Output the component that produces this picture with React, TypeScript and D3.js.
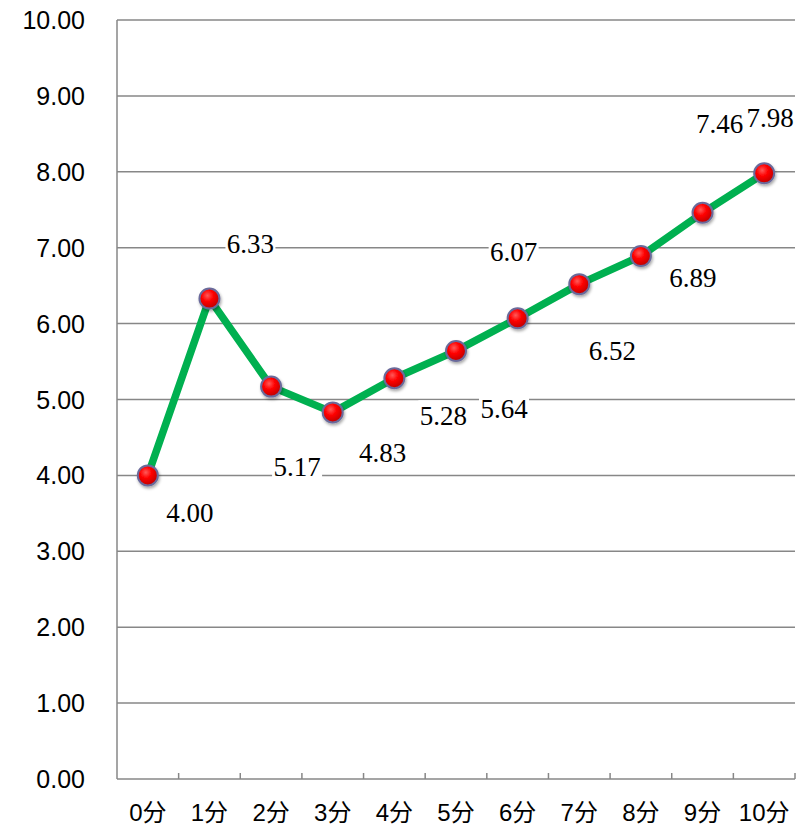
import React from "react";
import * as d3 from "d3";

const categories = ["0分", "1分", "2分", "3分", "4分", "5分", "6分", "7分", "8分", "9分", "10分"];
const values = [4.0, 6.33, 5.17, 4.83, 5.28, 5.64, 6.07, 6.52, 6.89, 7.46, 7.98];
const yTicks = [0, 1, 2, 3, 4, 5, 6, 7, 8, 9, 10];

// label placement relative to each point (dx, dy to text centre)
const labelOffsets: [number, number][] = [
  [42, 37], [41, -55], [26, 80], [50, 40], [49, 37], [48, 58],
  [-4, -67], [33, 66], [52, 22], [17, -89], [6, -56],
];

const W = 810;
const H = 827;
const left = 117;
const right = 795;
const top = 20;
const bottom = 779;

export default function App() {
  const x = d3.scaleBand<string>().domain(categories).range([left, right]);
  const y = d3.scaleLinear().domain([0, 10]).range([bottom, top]);
  const cxOf = (i: number) => (x(categories[i]) ?? 0) + x.bandwidth() / 2;
  const lx = (i: number) => cxOf(i) + labelOffsets[i][0];
  const ly = (i: number) => y(values[i]) + labelOffsets[i][1];

  const line = d3
    .line<number>()
    .x((_, i) => cxOf(i))
    .y((d) => y(d));

  const gridColor = "#878787";

  return (
    <svg width={W} height={H} style={{ position: "absolute", left: 0, top: 0 }}>
      <defs>
        <radialGradient id="ball" cx="40%" cy="35%" r="65%">
          <stop offset="0%" stopColor="#ff5a5a" />
          <stop offset="45%" stopColor="#ff0000" />
          <stop offset="100%" stopColor="#c00000" />
        </radialGradient>
        <filter id="shadow" x="-50%" y="-50%" width="200%" height="200%">
          <feDropShadow dx="1" dy="2" stdDeviation="1.5" floodColor="#000" floodOpacity="0.35" />
        </filter>
      </defs>
      <rect width={W} height={H} fill="#fff" />

      {/* gridlines */}
      {yTicks.map((t) => (
        <line key={t} x1={left} x2={right} y1={y(t)} y2={y(t)} stroke={gridColor} strokeWidth={1.5} />
      ))}
      {/* y axis */}
      <line x1={left} x2={left} y1={top} y2={bottom} stroke={gridColor} strokeWidth={1.5} />
      {/* x ticks at band boundaries */}
      {categories.map((c) => {
        const xx = (x(c) ?? 0) + x.bandwidth();
        return <line key={c} x1={xx} x2={xx} y1={bottom} y2={bottom - 6} stroke={gridColor} strokeWidth={1.5} />;
      })}

      {/* y labels */}
      {yTicks.map((t) => (
        <text
          key={t}
          x={85}
          y={y(t)}
          dy="0.36em"
          textAnchor="end"
          fontFamily="'Liberation Sans', Arial, sans-serif"
          fontSize={25}
          fill="#000"
        >
          {t.toFixed(2)}
        </text>
      ))}

      {/* x labels */}
      {categories.map((c) => (
        <text
          key={c}
          x={(x(c) ?? 0) + x.bandwidth() / 2}
          y={821}
          textAnchor="middle"
          fontFamily="'Liberation Sans', Arial, 'Noto Sans CJK SC', sans-serif"
          fontSize={24}
          fill="#000"
        >
          {c}
        </text>
      ))}

      {/* white backing behind data labels */}
      {values.map((_, i) => (
        <rect key={i} x={lx(i) - 25} y={ly(i) - 15} width={50} height={30} fill="#fff" />
      ))}
      {values.map((v, i) => (
        <text
          key={i}
          x={lx(i)}
          y={ly(i)}
          dy="0.35em"
          textAnchor="middle"
          fontFamily="'Liberation Serif', 'Times New Roman', serif"
          fontSize={27}
          fill="#000"
        >
          {v.toFixed(2)}
        </text>
      ))}

      {/* line */}
      <path d={line(values) ?? ""} fill="none" stroke="#00b050" strokeWidth={7.5} strokeLinejoin="round" />

      {/* markers */}
      {values.map((v, i) => (
        <circle
          key={i}
          cx={cxOf(i)}
          cy={y(v)}
          r={10}
          fill="url(#ball)"
          stroke="#6b6b9b"
          strokeWidth={2}
          filter="url(#shadow)"
        />
      ))}
    </svg>
  );
}
